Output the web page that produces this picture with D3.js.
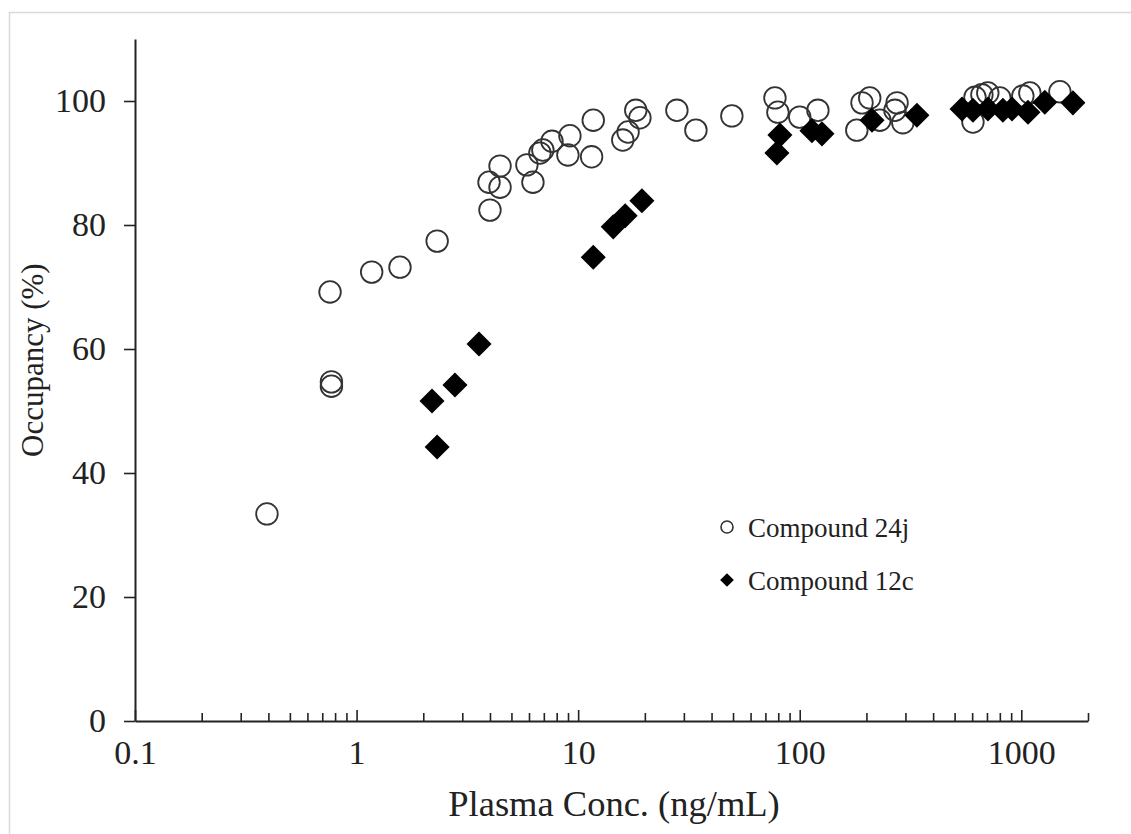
<!DOCTYPE html>
<html>
<head>
<meta charset="utf-8">
<script src="https://cdn.jsdelivr.net/npm/d3@7"></script>
<style>
  html, body { margin: 0; padding: 0; background: #fff; }
  svg { display: block; }
  .tick text { fill: #222; }
</style>
</head>
<body>
<svg id="chart" width="1131" height="834"></svg>
<script>
// Plasma concentration (ng/mL) and receptor occupancy (%) for each compound
const conc24j = [0.394, 0.759, 0.77, 0.77, 1.17, 1.57, 2.31, 3.96, 4.0, 4.44, 4.44, 5.87, 6.25, 6.72, 6.93, 7.62,
  9.18, 8.99, 11.5, 11.7, 15.9, 16.8, 18.2, 19.0, 27.9, 34.0, 49.4, 77.3, 79.7, 100, 120.8, 181, 191, 207, 230,
  269, 275, 292, 605, 618, 664, 706, 800, 1016, 1093, 1493];
const occ24j = [33.4, 69.2, 54.7, 54.0, 72.4, 73.2, 77.4, 86.9, 82.4, 86.1, 89.5, 89.7, 86.9, 91.6, 92.1, 93.5,
  94.4, 91.3, 91.0, 96.9, 93.7, 95.0, 98.5, 97.3, 98.5, 95.3, 97.6, 100.5, 98.2, 97.4, 98.5, 95.3, 99.7, 100.5, 96.9,
  98.5, 99.7, 96.5, 96.6, 100.6, 101.0, 101.3, 100.5, 100.8, 101.3, 101.5];

const conc12c = [2.19, 2.31, 2.78, 3.57, 11.7, 14.4, 16.3, 19.4, 78.9, 81.4, 113.5, 126, 212, 338, 540, 605, 707,
  826, 908, 1072, 1277, 1710];
const occ12c = [51.6, 44.2, 54.2, 60.8, 74.8, 79.7, 81.5, 83.9, 91.6, 94.5, 95.2, 94.7, 96.9, 97.7, 98.7, 98.5, 98.7,
  98.5, 98.7, 98.2, 99.8, 99.7];

const xMajorTicks = [0.1, 1, 10, 100, 1000];
const xTickLabels = ["0.1", "1", "10", "100", "1000"];
const xMinorTicks = [0.2, 0.3, 0.4, 0.5, 0.6, 0.7, 0.8, 0.9, 2, 3, 4, 5, 6, 7, 8, 9,
  20, 30, 40, 50, 60, 70, 80, 90, 200, 300, 400, 500, 600, 700, 800, 900, 2000];
const yTicks = [0, 20, 40, 60, 80, 100];
const seriesNames = ["Compound 24j", "Compound 12c"];

const svg = d3.select("#chart");
const serif = "'Liberation Serif', 'Times New Roman', serif";

// outer frame
svg.append("rect")
  .attr("x", 9.5).attr("y", 12.5)
  .attr("width", 1140).attr("height", 840)
  .attr("fill", "none").attr("stroke", "#d9d9d9").attr("stroke-width", 1.5);

const x = d3.scaleLog().domain([0.1, 2000]).range([135, 1088]);
const y = d3.scaleLinear().domain([0, 110]).range([721, 39]);

const axisColor = "#222";

// minor x ticks (inward)
svg.append("g")
  .attr("transform", `translate(0,${y(0)})`)
  .call(d3.axisBottom(x).tickValues(xMinorTicks).tickSizeInner(-8).tickSizeOuter(0).tickFormat(""))
  .call(g => g.select(".domain").remove())
  .call(g => g.selectAll(".tick line").attr("stroke", axisColor).attr("stroke-width", 1.6));

// major x ticks with labels
const xAxis = svg.append("g")
  .attr("transform", `translate(0,${y(0)})`)
  .call(d3.axisBottom(x).tickValues(xMajorTicks).tickSizeInner(-11).tickSizeOuter(0).tickPadding(19)
    .tickFormat((d, i) => xTickLabels[i]));
xAxis.select(".domain").attr("stroke", axisColor).attr("stroke-width", 2);
xAxis.selectAll(".tick line").attr("stroke", axisColor).attr("stroke-width", 1.6);
xAxis.selectAll(".tick text")
  .attr("font-family", serif).attr("font-size", 34);

// y axis
const yAxis = svg.append("g")
  .attr("transform", `translate(${x(0.1)},0)`)
  .call(d3.axisLeft(y).tickValues(yTicks).tickSizeInner(11).tickSizeOuter(0).tickPadding(18));
yAxis.select(".domain").attr("stroke", axisColor).attr("stroke-width", 2);
yAxis.selectAll(".tick line").attr("stroke", axisColor).attr("stroke-width", 1.6);
yAxis.selectAll(".tick text")
  .attr("font-family", serif).attr("font-size", 34);

// axis titles
svg.append("text")
  .attr("x", 614).attr("y", 816)
  .attr("text-anchor", "middle")
  .attr("font-family", serif).attr("font-size", 36.5).attr("fill", "#222")
  .text("Plasma Conc. (ng/mL)");

svg.append("text")
  .attr("transform", `translate(43,${y(58.2)}) rotate(-90)`)
  .attr("text-anchor", "middle")
  .attr("font-family", serif).attr("font-size", 31).attr("fill", "#222")
  .text("Occupancy (%)");

// Compound 24j: open circles
svg.append("g").selectAll("circle")
  .data(d3.zip(conc24j, occ24j))
  .join("circle")
  .attr("cx", d => x(d[0])).attr("cy", d => y(d[1]))
  .attr("r", 10.8)
  .attr("fill", "none").attr("stroke", "#333").attr("stroke-width", 1.8);

// Compound 12c: filled diamonds
const diamond = d3.symbol().type(d3.symbolDiamond2).size(400);
svg.append("g").selectAll("path")
  .data(d3.zip(conc12c, occ12c))
  .join("path")
  .attr("transform", d => `translate(${x(d[0])},${y(d[1])})`)
  .attr("d", diamond)
  .attr("fill", "#000");

// legend
const legend = svg.append("g").attr("transform", "translate(727,527)");
legend.append("circle").attr("cx", 0).attr("cy", 0).attr("r", 6)
  .attr("fill", "none").attr("stroke", "#333").attr("stroke-width", 1.6);
legend.append("path").attr("transform", "translate(0,53)")
  .attr("d", d3.symbol().type(d3.symbolDiamond2).size(120)).attr("fill", "#000");
legend.selectAll("text")
  .data(seriesNames)
  .join("text")
  .attr("x", 21).attr("y", (d, i) => i * 53 + 10)
  .attr("font-family", serif).attr("font-size", 27).attr("fill", "#222")
  .text(d => d);
</script>
</body>
</html>
